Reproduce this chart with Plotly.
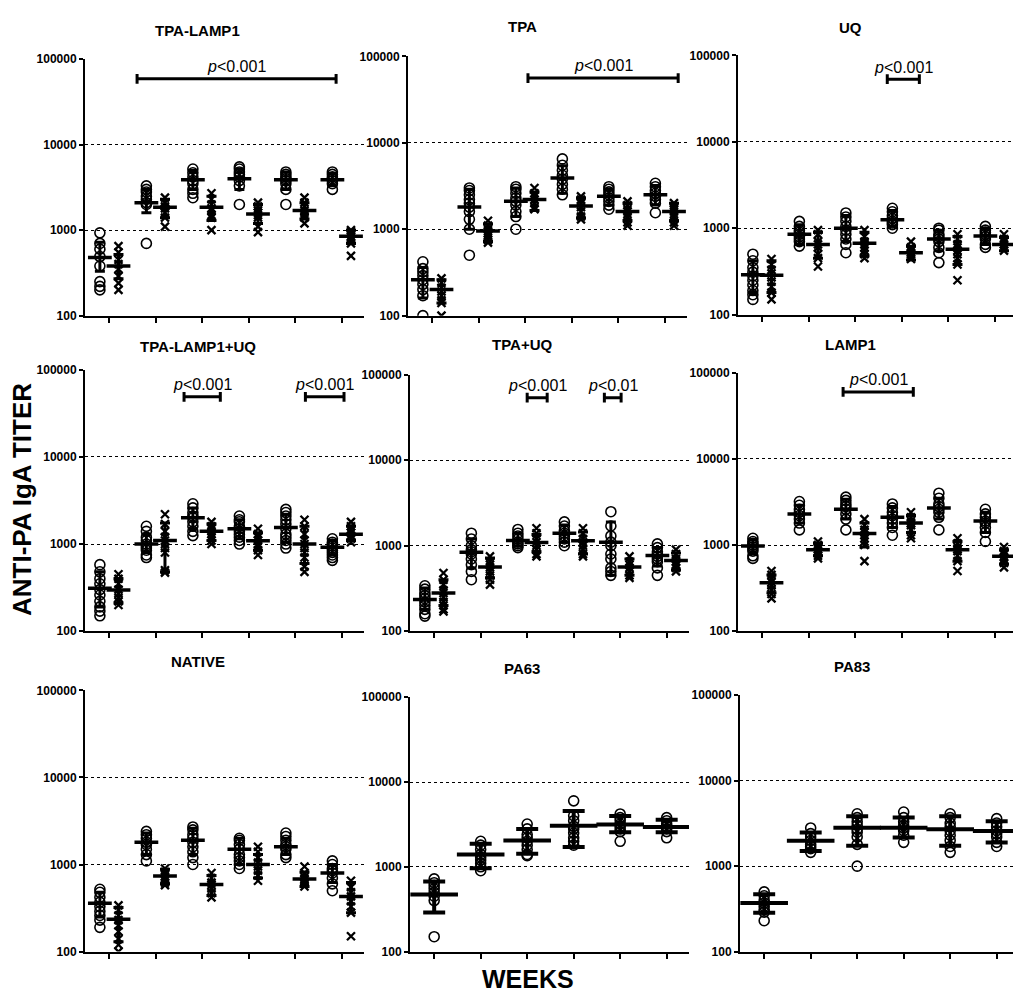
import math
import plotly.graph_objects as go

# ---------------- data ----------------
WEEKS = [1, 2, 3, 4, 5, 6]
Y_TICKS = [100, 1000, 10000, 100000]
Y_TICK_TEXT = ["100", "1000", "10000", "100000"]
TITLES = ["TPA-LAMP1", "TPA", "UQ", "TPA-LAMP1+UQ", "TPA+UQ", "LAMP1", "NATIVE", "PA63", "PA83"]

# TPA-LAMP1
tpa_lamp1_o = [[930, 700, 600, 490, 380, 250, 220, 200],
               [3300, 3000, 2800, 2500, 2300, 2100, 2000, 700],
               [5200, 4700, 4200, 3800, 3500, 3000, 2700, 2400],
               [5500, 5200, 4800, 4500, 4200, 3800, 3300, 2000],
               [4800, 4500, 4200, 4000, 3800, 3500, 3000, 2000],
               [4800, 4500, 4200, 4000, 3800, 3500, 3000]]
tpa_lamp1_o_mean = [480, 2100, 3900, 4000, 3900, 3900]
tpa_lamp1_o_lo = [330, 1600, 3000, 3000, 3000, 3300]
tpa_lamp1_o_hi = [720, 3000, 5000, 5200, 4800, 4600]
tpa_lamp1_x = [[650, 550, 450, 400, 350, 290, 240, 200],
               [2400, 2100, 1900, 1800, 1600, 1400, 1100],
               [2700, 2300, 2000, 1800, 1700, 1500, 1400, 1000],
               [2100, 1900, 1700, 1600, 1500, 1400, 1100, 950],
               [2400, 2100, 1900, 1700, 1600, 1500, 1400, 1200],
               [1000, 950, 900, 850, 800, 700, 500]]
tpa_lamp1_x_mean = [380, 1850, 1850, 1550, 1700, 850]
tpa_lamp1_x_lo = [270, 1400, 1300, 1200, 1350, 700]
tpa_lamp1_x_hi = [520, 2300, 2500, 2000, 2100, 1000]

# TPA
tpa_o = [[420, 350, 320, 290, 260, 230, 200, 170, 100],
         [3000, 2800, 2500, 2200, 2000, 1800, 1600, 1300, 1000, 500],
         [3100, 2900, 2600, 2300, 2100, 1900, 1600, 1400, 1000],
         [6500, 5500, 4800, 4200, 3800, 3300, 2900, 2500],
         [3100, 2900, 2700, 2500, 2300, 2100, 1900, 1700],
         [3400, 3100, 2800, 2600, 2400, 2200, 2000, 1550]]
tpa_o_mean = [260, 1800, 2100, 3900, 2400, 2500]
tpa_o_lo = [160, 1000, 1400, 2600, 1900, 1900]
tpa_o_hi = [360, 2900, 3000, 5400, 2900, 3200]
tpa_x = [[270, 240, 210, 190, 170, 150, 140, 100],
         [1250, 1100, 1000, 950, 900, 850, 750, 700],
         [3000, 2600, 2400, 2200, 2000, 1800, 1700],
         [2400, 2200, 2000, 1800, 1600, 1400, 1300],
         [2100, 1900, 1700, 1600, 1500, 1400, 1200, 1100],
         [2000, 1800, 1700, 1600, 1500, 1400, 1200, 1100]]
tpa_x_mean = [200, 950, 2200, 1850, 1600, 1600]
tpa_x_lo = [140, 720, 1650, 1350, 1250, 1250]
tpa_x_hi = [260, 1150, 2700, 2300, 2000, 2000]

# UQ
uq_o = [[500, 420, 350, 310, 280, 250, 220, 190, 170, 150],
        [1200, 1050, 950, 900, 850, 800, 750, 700, 620],
        [1500, 1350, 1200, 1050, 950, 850, 750, 650, 520],
        [1700, 1550, 1400, 1300, 1200, 1150, 1100, 1000],
        [1000, 950, 850, 800, 750, 700, 600, 520, 400],
        [1050, 950, 900, 850, 800, 750, 650, 600]]
uq_o_mean = [290, 850, 1000, 1250, 750, 810]
uq_o_lo = [180, 650, 700, 1050, 550, 650]
uq_o_hi = [420, 1100, 1400, 1600, 950, 1000]
uq_x = [[440, 380, 330, 300, 270, 240, 210, 180, 150],
        [950, 850, 700, 650, 600, 500, 450, 360],
        [950, 800, 700, 650, 600, 550, 500, 450],
        [700, 600, 550, 520, 500, 470, 440],
        [850, 750, 650, 600, 550, 500, 450, 380, 250],
        [850, 750, 700, 650, 600, 550]]
uq_x_mean = [285, 650, 670, 520, 570, 650]
uq_x_lo = [180, 450, 480, 430, 380, 550]
uq_x_hi = [420, 900, 900, 620, 800, 780]

# TPA-LAMP1+UQ
tlu_o = [[580, 480, 400, 350, 300, 260, 220, 190, 170, 150],
         [1600, 1400, 1200, 1100, 1000, 950, 900, 850, 750, 700],
         [2900, 2600, 2300, 2100, 2000, 1800, 1600, 1400, 1250],
         [2100, 1900, 1800, 1600, 1500, 1400, 1300, 1200, 1100, 1000],
         [2500, 2300, 2100, 1900, 1700, 1500, 1300, 1200, 1100, 1000, 900],
         [1150, 1050, 1000, 950, 900, 850, 800, 750, 700, 650]]
tlu_o_mean = [310, 1000, 2000, 1500, 1550, 920]
tlu_o_lo = [190, 800, 1500, 1150, 1050, 750]
tlu_o_hi = [480, 1300, 2600, 1900, 2200, 1100]
tlu_x = [[450, 400, 350, 300, 270, 240, 220, 200],
         [2200, 1700, 1400, 1200, 1100, 1000, 900, 800, 500, 470],
         [1800, 1600, 1500, 1400, 1300, 1200, 1100, 1000],
         [1500, 1300, 1200, 1100, 1000, 950, 850, 750],
         [1900, 1600, 1300, 1100, 1000, 900, 800, 700, 550, 480],
         [1800, 1600, 1450, 1350, 1250, 1150, 1050]]
tlu_x_mean = [296, 1100, 1400, 1090, 1000, 1300]
tlu_x_lo = [210, 480, 1100, 850, 600, 1100]
tlu_x_hi = [400, 1750, 1700, 1350, 1600, 1600]

# TPA+UQ
tu_o = [[340, 310, 280, 260, 240, 220, 200, 180, 160, 150],
        [1400, 1200, 1000, 900, 850, 800, 700, 600, 500, 400],
        [1550, 1400, 1300, 1200, 1100, 1050, 1000, 950],
        [1900, 1700, 1500, 1400, 1300, 1200, 1100, 1000],
        [2500, 1700, 1300, 1100, 1000, 800, 700, 550, 500, 450],
        [1050, 950, 850, 800, 750, 700, 650, 550, 450]]
tu_o_mean = [235, 840, 1150, 1400, 1100, 770]
tu_o_lo = [180, 550, 1000, 1100, 450, 580]
tu_o_hi = [320, 1200, 1400, 1750, 1900, 950]
tu_x = [[480, 400, 350, 300, 280, 250, 220, 200, 180, 170],
        [750, 650, 600, 560, 500, 450, 400, 350],
        [1600, 1400, 1200, 1100, 1000, 900, 800, 750],
        [1600, 1400, 1200, 1100, 1000, 900, 800, 750],
        [750, 650, 600, 550, 500, 450, 420],
        [900, 800, 700, 650, 600, 550, 500]]
tu_x_mean = [280, 565, 1090, 1140, 565, 670]
tu_x_lo = [200, 420, 850, 800, 450, 520]
tu_x_hi = [400, 720, 1350, 1450, 700, 820]

# LAMP1
lamp1_o = [[1200, 1100, 1050, 1000, 950, 900, 850, 750, 700],
           [3200, 2900, 2600, 2400, 2200, 2000, 1800, 1500],
           [3600, 3300, 3000, 2800, 2600, 2300, 2000, 1500],
           [3000, 2700, 2400, 2200, 2000, 1800, 1600, 1300],
           [4000, 3500, 3000, 2800, 2600, 2400, 2100, 1500],
           [2600, 2300, 2100, 1900, 1800, 1600, 1400, 1100]]
lamp1_o_mean = [975, 2300, 2600, 2100, 2700, 1900]
lamp1_o_lo = [800, 1800, 2000, 1600, 2000, 1400]
lamp1_o_hi = [1150, 2900, 3400, 2800, 3500, 2400]
lamp1_x = [[500, 450, 400, 370, 340, 300, 270, 240],
           [1100, 1000, 950, 900, 850, 800, 750, 700],
           [2000, 1700, 1500, 1400, 1300, 1200, 1100, 1000, 650],
           [2400, 2100, 1900, 1800, 1700, 1500, 1300, 1200],
           [1200, 1050, 950, 900, 850, 750, 650, 500],
           [950, 850, 780, 720, 680, 620, 550]]
lamp1_x_mean = [365, 880, 1360, 1800, 880, 740]
lamp1_x_lo = [280, 750, 950, 1400, 650, 600]
lamp1_x_hi = [450, 1050, 1800, 2200, 1100, 880]

# NATIVE
native_o = [[520, 480, 420, 370, 330, 290, 260, 230, 190],
            [2400, 2200, 2000, 1800, 1700, 1500, 1300, 1100],
            [2700, 2500, 2200, 2000, 1800, 1600, 1400, 1200, 1000],
            [2000, 1900, 1700, 1500, 1300, 1200, 1100, 1000, 900],
            [2300, 2100, 1900, 1700, 1600, 1500, 1300, 1200],
            [1100, 1000, 900, 850, 800, 700, 600, 500]]
native_o_mean = [360, 1800, 1900, 1500, 1600, 800]
native_o_lo = [250, 1300, 1300, 1000, 1300, 620]
native_o_hi = [480, 2300, 2600, 2000, 2000, 1000]
native_x = [[340, 300, 260, 230, 200, 170, 140, 120, 100],
            [900, 820, 780, 720, 680, 620, 580],
            [800, 700, 620, 580, 530, 470, 420],
            [1600, 1400, 1200, 1050, 950, 850, 750, 650],
            [950, 800, 720, 680, 640, 600, 560],
            [650, 550, 480, 430, 380, 330, 280, 150]]
native_x_mean = [235, 740, 590, 1000, 680, 430]
native_x_lo = [130, 600, 440, 700, 560, 280]
native_x_hi = [320, 880, 750, 1300, 820, 620]

# PA63
pa63_o = [[720, 650, 600, 550, 500, 450, 400, 150],
          [2000, 1800, 1600, 1400, 1300, 1200, 1100, 1000, 900],
          [3200, 2800, 2400, 2200, 2000, 1800, 1600, 1400, 1350],
          [6000, 4000, 3500, 3000, 2800, 2500, 2200, 2000, 1800],
          [4200, 3800, 3500, 3200, 3000, 2800, 2600, 2000],
          [3800, 3500, 3200, 3000, 2800, 2600, 2200]]
pa63_o_mean = [470, 1400, 2040, 3050, 3150, 2950]
pa63_o_lo = [290, 960, 1430, 1710, 2550, 2550]
pa63_o_hi = [670, 1870, 2800, 4560, 3980, 3600]

# PA83
pa83_o = [[500, 450, 400, 370, 340, 310, 290, 230],
          [2800, 2400, 2200, 2000, 1800, 1700, 1600, 1450],
          [4100, 3700, 3300, 3000, 2700, 2500, 2200, 1800, 1000],
          [4300, 3700, 3300, 3000, 2800, 2600, 2300, 1900],
          [4100, 3700, 3200, 2900, 2600, 2300, 2000, 1700, 1450],
          [3600, 3200, 2900, 2600, 2400, 2200, 1900, 1700]]
pa83_o_mean = [370, 1980, 2820, 2820, 2700, 2580]
pa83_o_lo = [285, 1500, 1730, 2160, 1730, 1890]
pa83_o_hi = [470, 2470, 3840, 3700, 3840, 3360]

# significance brackets: (from week, to week, bracket titer, label)
tpa_lamp1_sig = [(1.6, 5.88, 59000, "p<0.001")]
tpa_sig = [(3.06, 6.29, 56000, "p<0.001")]
uq_sig = [(3.69, 4.38, 53000, "p<0.001")]
tlu_sig = [(2.61, 3.39, 49000, "p<0.001"), (5.22, 6.05, 49000, "p<0.001")]
tu_sig = [(3.0, 3.43, 54000, "p<0.001"), (4.66, 5.02, 54000, "p<0.01")]
lamp1_sig = [(2.74, 4.25, 60000, "p<0.001")]

PANELS = [
    dict(o=tpa_lamp1_o, om=tpa_lamp1_o_mean, ol=tpa_lamp1_o_lo, oh=tpa_lamp1_o_hi,
         x=tpa_lamp1_x, xm=tpa_lamp1_x_mean, xl=tpa_lamp1_x_lo, xh=tpa_lamp1_x_hi, sig=tpa_lamp1_sig),
    dict(o=tpa_o, om=tpa_o_mean, ol=tpa_o_lo, oh=tpa_o_hi,
         x=tpa_x, xm=tpa_x_mean, xl=tpa_x_lo, xh=tpa_x_hi, sig=tpa_sig),
    dict(o=uq_o, om=uq_o_mean, ol=uq_o_lo, oh=uq_o_hi,
         x=uq_x, xm=uq_x_mean, xl=uq_x_lo, xh=uq_x_hi, sig=uq_sig),
    dict(o=tlu_o, om=tlu_o_mean, ol=tlu_o_lo, oh=tlu_o_hi,
         x=tlu_x, xm=tlu_x_mean, xl=tlu_x_lo, xh=tlu_x_hi, sig=tlu_sig),
    dict(o=tu_o, om=tu_o_mean, ol=tu_o_lo, oh=tu_o_hi,
         x=tu_x, xm=tu_x_mean, xl=tu_x_lo, xh=tu_x_hi, sig=tu_sig),
    dict(o=lamp1_o, om=lamp1_o_mean, ol=lamp1_o_lo, oh=lamp1_o_hi,
         x=lamp1_x, xm=lamp1_x_mean, xl=lamp1_x_lo, xh=lamp1_x_hi, sig=lamp1_sig),
    dict(o=native_o, om=native_o_mean, ol=native_o_lo, oh=native_o_hi,
         x=native_x, xm=native_x_mean, xl=native_x_lo, xh=native_x_hi, sig=[]),
    dict(o=pa63_o, om=pa63_o_mean, ol=pa63_o_lo, oh=pa63_o_hi, x=None, sig=[]),
    dict(o=pa83_o, om=pa83_o_mean, ol=pa83_o_lo, oh=pa83_o_hi, x=None, sig=[]),
]

# ---------------- layout geometry (pixels) ----------------
W, H = 1013, 1002
BOX = [(85, 364, 53, 313), (408, 687, 50, 313), (738, 1013, 49, 312),
       (85, 364, 368, 633), (410, 689, 373, 633), (738, 1013, 371, 633),
       (85, 364, 693, 958), (410, 689, 700, 958), (740, 1013, 698, 958)]
TITLE_POS = [(197, 24), (522, 20), (850, 21), (198, 344), (522, 342), (850, 342),
             (198, 664), (522, 671), (852, 669)]
TICK_SPACING = 46.5
X_START = 0.48
FONT = "Liberation Sans, Arial, sans-serif"

fig = go.Figure()
annotations = []

def px2paper_x(px):
    return px / W

def px2paper_y(py):
    return 1 - py / H

for i, p in enumerate(PANELS):
    k = i + 1
    xa = "x" if k == 1 else f"x{k}"
    ya = "y" if k == 1 else f"y{k}"
    x0, x1, y0, y1 = BOX[i]
    xrange = [X_START, X_START + (x1 - x0) / TICK_SPACING]
    paired = p["x"] is not None
    off = 0.2 if paired else 0.0
    big = not paired

    groups = [("o", -off, "circle-open")]
    if paired:
        groups.append(("x", off, "x-thin-open"))

    for key, dx, sym in groups:
        vals = p[key]
        xs, ys = [], []
        for w, v in zip(WEEKS, vals):
            xs += [w + dx] * len(v)
            ys += v
        if sym == "circle-open":
            mk = dict(symbol=sym, size=10, color="black", line=dict(color="black", width=1.6))
        else:
            mk = dict(symbol=sym, size=8, color="black", line=dict(color="black", width=2.3))
        fig.add_trace(go.Scatter(x=xs, y=ys, mode="markers", marker=mk,
                                 xaxis=xa, yaxis=ya, showlegend=False, hoverinfo="skip"))
        m = p[key + "m"]
        lo = p[key + "l"]
        hi = p[key + "h"]
        fig.add_trace(go.Scatter(
            x=[w + dx for w in WEEKS], y=m, mode="markers",
            marker=dict(symbol="line-ew-open", size=34 if big else 17, color="black",
                        line=dict(color="black", width=4 if big else 3.5)),
            error_y=dict(type="data", symmetric=False,
                         array=[h - mm for h, mm in zip(hi, m)],
                         arrayminus=[mm - l for mm, l in zip(m, lo)],
                         color="black", thickness=4 if big else 3,
                         width=11 if big else 5),
            xaxis=xa, yaxis=ya, showlegend=False, hoverinfo="skip"))

    # significance brackets
    for (a, b, yv, lab) in p["sig"]:
        cap = 1.14
        fig.add_trace(go.Scatter(
            x=[a, a, None, a, b, None, b, b],
            y=[yv / cap, yv * cap, None, yv, yv, None, yv / cap, yv * cap],
            mode="lines", line=dict(color="black", width=3),
            xaxis=xa, yaxis=ya, showlegend=False, hoverinfo="skip"))
        txt = "<i>p</i>&lt;" + lab.split("<")[1]
        annotations.append(dict(x=(a + b) / 2, y=math.log10(yv) + 0.14, xref=xa, yref=ya,
                                text=txt, showarrow=False, xanchor="center", yanchor="middle",
                                font=dict(family=FONT, size=16, color="black")))

    dom_x = [px2paper_x(x0), px2paper_x(x1)]
    dom_y = [px2paper_y(y1), px2paper_y(y0)]
    xname = "xaxis" if k == 1 else f"xaxis{k}"
    yname = "yaxis" if k == 1 else f"yaxis{k}"
    fig.update_layout(**{
        xname: dict(domain=dom_x, anchor=ya, range=xrange, tickvals=WEEKS,
                    showticklabels=False, ticks="outside", ticklen=5, tickwidth=1.5,
                    tickcolor="black", showline=True, linecolor="black", linewidth=2,
                    showgrid=False, zeroline=False, fixedrange=True),
        yname: dict(domain=dom_y, anchor=xa, type="log", range=[2, 5],
                    tickvals=Y_TICKS, ticktext=Y_TICK_TEXT, ticks="outside", ticklen=4,
                    tickwidth=1.5, tickcolor="black", showline=True, linecolor="black",
                    linewidth=2, showgrid=True, gridcolor="black", gridwidth=1,
                    griddash="3px,3px", zeroline=False,
                    tickfont=dict(family=FONT, size=12, color="black", weight="bold")),
    })

    tx, ty = TITLE_POS[i]
    annotations.append(dict(x=px2paper_x(tx), y=px2paper_y(ty), xref="paper", yref="paper",
                            text=TITLES[i], showarrow=False, xanchor="center", yanchor="middle",
                            font=dict(family=FONT, size=15, color="black", weight="bold")))

annotations.append(dict(x=px2paper_x(22), y=px2paper_y(500), xref="paper", yref="paper",
                        text="ANTI-PA IgA TITER", textangle=-90, showarrow=False,
                        xanchor="center", yanchor="middle",
                        font=dict(family=FONT, size=26, color="black", weight="bold")))
annotations.append(dict(x=px2paper_x(528), y=px2paper_y(986), xref="paper", yref="paper",
                        text="WEEKS", showarrow=False, xanchor="center", yanchor="middle",
                        font=dict(family=FONT, size=25, color="black", weight="bold")))

fig.update_layout(width=W, height=H, margin=dict(l=0, r=0, t=0, b=0),
                  paper_bgcolor="white", plot_bgcolor="white",
                  annotations=annotations, showlegend=False)

fig.write_html("out.html")
